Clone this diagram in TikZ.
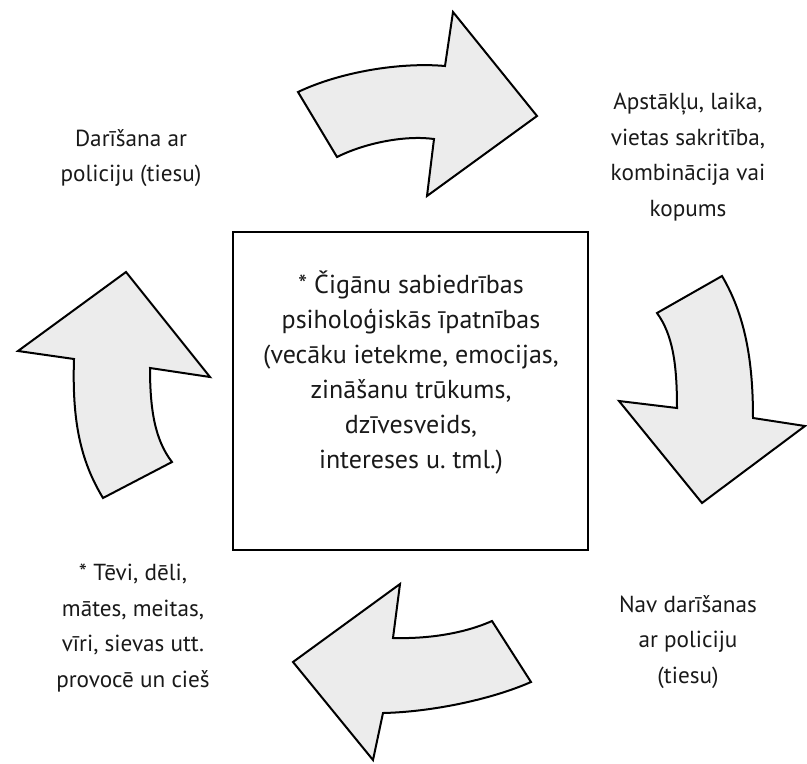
\documentclass[tikz,border=0pt]{standalone}
\usepackage{fontspec}
\setmainfont{PT Sans}
\definecolor{arrowfill}{RGB}{236,236,236}
\begin{document}
\begin{tikzpicture}[x=1pt,y=-1pt,
  arr/.style={draw=black, line width=2pt, fill=arrowfill, line join=miter},
  lbl/.style={align=center, font=\fontsize{23.2}{35.5}\selectfont, inner sep=0pt, text=black!90},
  boxlbl/.style={align=center, font=\fontsize{26}{35}\selectfont, inner sep=0pt, text=black!90}]
\useasboundingbox (0,0) rectangle (807,764);
% top arrow
\draw[arr] (298,92) .. controls (340,72) and (400,62) .. (445,66)
  -- (453,12) -- (537,116) -- (427,196) -- (434,139)
  .. controls (405,135) and (365,143) .. (337,157) -- cycle;
% right arrow
\draw[arr] (657,313) -- (722,276) .. controls (745,315) and (753,360) .. (753,418)
  -- (805,426) -- (702,503) -- (619,401) -- (677,408)
  .. controls (677,365) and (673,335) .. cycle;
% bottom arrow
\draw[arr] (400,584) -- (393,638) .. controls (430,639) and (465,633) .. (492,621)
  -- (531,682) .. controls (490,700) and (430,712) .. (383,713)
  -- (373,760) -- (293,662) -- cycle;
% left arrow
\draw[arr] (126,272) -- (210,377) -- (150,368) .. controls (150,410) and (155,440) .. (172,462)
  -- (103,498) .. controls (80,460) and (72,420) .. (74,359) -- (18,351) -- cycle;
% centre box
\node[draw=black, line width=2pt, minimum width=355pt, minimum height=318pt, inner sep=0pt] (box) at (410.5,391) {};
\node[boxlbl] (centre) at (411,373) {* Čigānu sabiedrības\\psiholoģiskās īpatnības\\(vecāku ietekme, emocijas,\\zināšanu trūkums,\\dzīvesveids,\\intereses u.\ tml.)};
\node[lbl] (tl) at (131,158) {Darīšana ar\\policiju (tiesu)};
\node[lbl] (tr) at (688,157) {Apstākļu, laika,\\vietas sakritība,\\kombinācija vai\\kopums};
\node[lbl] (bl) at (133,628) {* Tēvi, dēli,\\mātes, meitas,\\vīri, sievas utt.\\provocē un cieš};
\node[lbl] (br) at (688,642) {Nav darīšanas\\ar policiju\\(tiesu)};
\end{tikzpicture}
\end{document}
